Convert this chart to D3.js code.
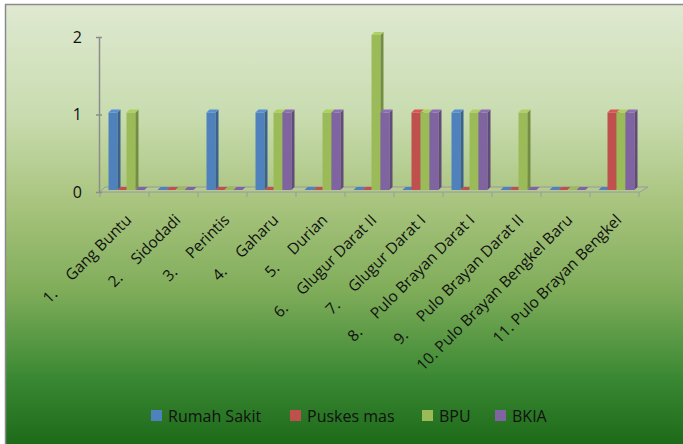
<!DOCTYPE html>
<html>
<head>
<meta charset="utf-8">
<script src="https://cdn.jsdelivr.net/npm/d3@7"></script>
<style>
  html, body { margin: 0; padding: 0; background: #fff; }
  svg { display: block; }
  text { font-family: "Open Sans", Lato, sans-serif; fill: #111; }
</style>
</head>
<body>
<svg id="chart" width="683" height="444"></svg>
<script>
// ---- data ----
const categories = [
  "1.\tGang Buntu", "2.\tSidodadi", "3.\tPerintis", "4.\tGaharu", "5.\tDurian",
  "6.\tGlugur Darat II", "7.\tGlugur Darat I", "8.\tPulo Brayan Darat I",
  "9.\tPulo Brayan Darat II", "10. Pulo Brayan Bengkel Baru", "11. Pulo Brayan Bengkel"
];
const seriesNames = ["Rumah Sakit", "Puskes mas", "BPU", "BKIA"];
const rumahSakit = [1, 0, 1, 1, 0, 0, 0, 1, 0, 0, 0];
const puskesmas  = [0, 0, 0, 0, 0, 0, 1, 0, 0, 0, 1];
const bpu        = [1, 0, 0, 1, 1, 2, 1, 1, 1, 0, 1];
const bkia       = [0, 0, 0, 1, 1, 1, 1, 1, 0, 0, 1];
const yTicks = [0, 1, 2];

const seriesValues = [rumahSakit, puskesmas, bpu, bkia];
const colors = ["#4F81BD", "#C0504D", "#9BBB59", "#8064A2"];

const svg = d3.select("#chart");

// background gradient
const defs = svg.append("defs");
const bg = defs.append("linearGradient").attr("id", "bg").attr("x1", 0).attr("y1", 0).attr("x2", 0).attr("y2", 1);
[[0, "#dfe9d1"], [0.25, "#c9dcb0"], [0.45, "#a9c47e"], [0.65, "#80ad5a"], [0.85, "#3a8833"], [1, "#1d6a19"]]
  .forEach(([o, c]) => bg.append("stop").attr("offset", o).attr("stop-color", c));

svg.append("rect").attr("x", 0).attr("y", 0).attr("width", 683).attr("height", 444).attr("fill", "#fff");
svg.append("rect").attr("x", 5).attr("y", 4).attr("width", 678).attr("height", 440).attr("fill", "url(#bg)");
svg.append("line").attr("x1", 5.5).attr("x2", 5.5).attr("y1", 4).attr("y2", 444).attr("stroke", "#8a8a8a").attr("stroke-width", 1.5);
svg.append("line").attr("x1", 5).attr("x2", 683).attr("y1", 4.5).attr("y2", 4.5).attr("stroke", "#8a8a8a").attr("stroke-width", 1.5);

// scales
const x = d3.scaleBand().domain(categories).range([100, 639]).padding(0);
const x1 = d3.scaleBand().domain(seriesNames).range([8.5, 44.5]).padding(0);
const y = d3.scaleLinear().domain([0, 2]).range([192, 37]);

// floor
const fl = y(0);
const floorPts = [[100, fl], [105, fl - 5], [648, fl - 5], [640, fl]];
svg.append("polygon").attr("points", floorPts.map(p => p.join(",")).join(" "))
  .attr("fill", "#b3c98f").attr("stroke", "#9a9a9a").attr("stroke-width", 1);

// category ticks
const xTickPos = categories.map(c => x(c)).concat([x.range()[1]]);
svg.selectAll(".xtick").data(xTickPos).enter().append("line")
  .attr("x1", d => d).attr("x2", d => d).attr("y1", fl).attr("y2", fl + 5)
  .attr("stroke", "#9a9a9a").attr("stroke-width", 1);

// y axis
const yAxis = d3.axisLeft(y).tickValues(yTicks).tickFormat(d3.format("d")).tickSize(0).tickPadding(17);
const ya = svg.append("g").attr("transform", "translate(99,0)").call(yAxis);
ya.select(".domain").attr("stroke", "#8c8c8c").attr("stroke-width", 1.5);
ya.selectAll("text").style("font-size", "16px").attr("fill", "#111").style("font-family", "'Open Sans', sans-serif");
ya.selectAll(".tick").append("line").attr("x1", -3).attr("x2", 3).attr("stroke", "#8c8c8c").attr("stroke-width", 1.5);

// bars
const dx = 3, dy = -3, w = 9;
const barData = [];
categories.forEach((c, i) => {
  seriesNames.forEach((s, j) => barData.push({ c, s, j, v: seriesValues[j][i] }));
});
const g = svg.append("g");
barData.forEach(d => {
  const x0 = x(d.c) + x1(d.s);
  const base = y(0) - 2;
  const top = y(d.v) - 2;
  const col = d3.color(colors[d.j]);
  const side = col.darker(0.8);
  const topc = col.brighter(0.3);
  if (d.v > 0) {
    g.append("rect").attr("x", x0).attr("y", top).attr("width", w).attr("height", base - top).attr("fill", col);
    g.append("polygon").attr("points", [[x0 + w, top], [x0 + w + dx, top + dy], [x0 + w + dx, base + dy], [x0 + w, base]].map(p => p.join(",")).join(" "))
      .attr("fill", side);
  }
  g.append("polygon").attr("points", [[x0, top], [x0 + dx, top + dy], [x0 + w + dx, top + dy], [x0 + w, top]].map(p => p.join(",")).join(" "))
    .attr("fill", d.v > 0 ? topc : col);
});

// category labels
categories.forEach(c => {
  const cx = x(c) + x.bandwidth() / 2 + 8;
  const lg = svg.append("g").attr("transform", `translate(${cx},221) rotate(-45)`);
  const parts = c.split("\t");
  if (parts.length === 2) {
    const nameT = lg.append("text").attr("text-anchor", "end").style("font-size", "15.5px").text(parts[1]);
    const wName = nameT.node().getComputedTextLength();
    lg.append("text").attr("x", -wName - 32).attr("text-anchor", "start").style("font-size", "15.5px").text(parts[0]);
  } else {
    lg.append("text").attr("text-anchor", "end").style("font-size", "15.5px").text(c);
  }
});

// legend
const legX = [151, 290, 422, 495];
seriesNames.forEach((s, j) => {
  svg.append("rect").attr("x", legX[j]).attr("y", 410).attr("width", 11).attr("height", 11).attr("fill", colors[j]);
  svg.append("text").attr("x", legX[j] + 17).attr("y", 422).style("font-size", "16px").text(s);
});
</script>
</body>
</html>
